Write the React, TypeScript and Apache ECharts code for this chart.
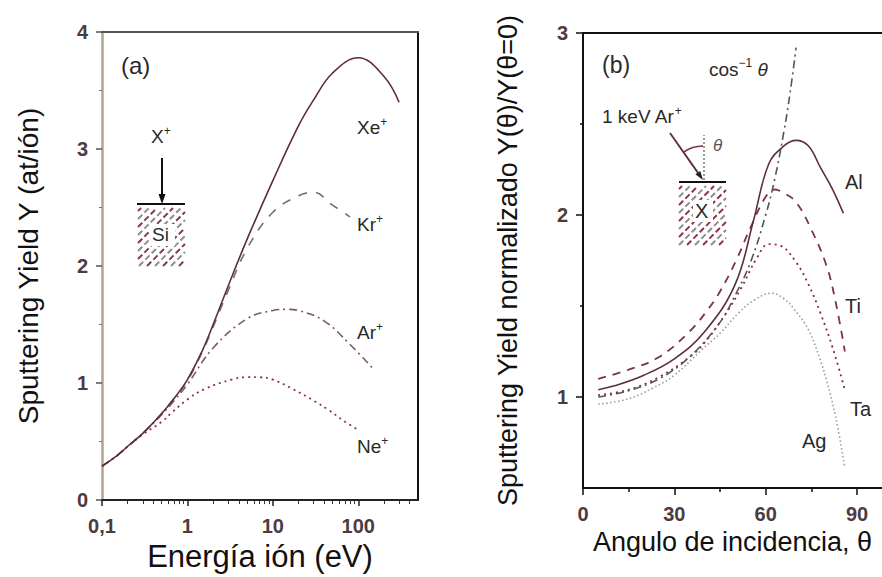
import React, { useEffect, useRef } from "react";
import * as echarts from "echarts";

// ---------- Panel (a): sputtering yield vs ion energy ----------
const energyXe = [0.1, 0.15, 0.2, 0.3, 0.5, 0.7, 1, 1.5, 2, 3, 5, 10, 20, 30, 50, 100, 200, 300];
const yieldXe = [0.29, 0.38, 0.46, 0.57, 0.74, 0.87, 1.03, 1.28, 1.5, 1.83, 2.23, 2.73, 3.2, 3.42, 3.65, 3.78, 3.62, 3.4];

const energyKr = [0.1, 0.15, 0.2, 0.3, 0.5, 0.7, 1, 1.5, 2, 3, 5, 10, 20, 30, 50, 80];
const yieldKr = [0.29, 0.38, 0.46, 0.57, 0.74, 0.87, 1.02, 1.27, 1.48, 1.79, 2.15, 2.46, 2.6, 2.63, 2.52, 2.42];

const energyAr = [0.1, 0.15, 0.2, 0.3, 0.5, 0.7, 1, 2, 5, 10, 15, 20, 40, 80, 150];
const yieldAr = [0.29, 0.38, 0.46, 0.57, 0.73, 0.85, 0.99, 1.3, 1.55, 1.62, 1.63, 1.62, 1.53, 1.33, 1.12];

const energyNe = [0.1, 0.15, 0.2, 0.3, 0.5, 0.66, 1, 1.6, 3.3, 5, 7, 10, 17, 30, 45, 70, 100];
const yieldNe = [0.29, 0.38, 0.46, 0.56, 0.67, 0.75, 0.86, 0.95, 1.03, 1.05, 1.05, 1.03, 0.95, 0.85, 0.77, 0.67, 0.6];

const energyTicks = [0.1, 1, 10, 100];
const energyMinorTicks = [0.2, 0.3, 0.4, 0.5, 0.6, 0.7, 0.8, 0.9, 2, 3, 4, 5, 6, 7, 8, 9, 20, 30, 40, 50, 60, 70, 80, 90, 200, 300, 400];

// ---------- Panel (b): normalized yield vs incidence angle ----------
const angleAl = [5, 10, 20, 30, 40, 50, 56, 61, 66, 70, 74, 78, 82, 85.5];
const yieldAl = [1.04, 1.06, 1.12, 1.21, 1.36, 1.62, 1.97, 2.28, 2.38, 2.41, 2.38, 2.26, 2.14, 2.01];

const angleTi = [5, 15, 25, 35, 41, 45, 50, 55, 60, 63, 66, 70, 75, 80, 83, 86];
const yieldTi = [1.1, 1.15, 1.22, 1.36, 1.48, 1.58, 1.74, 1.93, 2.1, 2.14, 2.12, 2.07, 1.92, 1.72, 1.52, 1.25];

const angleTa = [5, 15, 25, 35, 40, 47, 52, 57, 61, 65, 70, 74, 78, 82, 86];
const yieldTa = [1.01, 1.04, 1.11, 1.22, 1.3, 1.46, 1.6, 1.76, 1.84, 1.83, 1.74, 1.62, 1.46, 1.27, 1.04];

const angleAg = [5, 15, 23, 30, 39, 45, 51, 56, 62, 66, 69, 74, 78, 80, 83, 86];
const yieldAg = [0.96, 0.99, 1.05, 1.12, 1.26, 1.35, 1.46, 1.53, 1.57, 1.54, 1.49, 1.37, 1.2, 1.09, 0.89, 0.61];

const angleCos = [5, 15, 25, 35, 45, 50, 55, 60, 63, 66, 68, 70];
const yieldCos = [1.0, 1.035, 1.1, 1.22, 1.41, 1.56, 1.74, 2.0, 2.2, 2.46, 2.67, 2.92];

const angleTicks = [0, 30, 60, 90];
const angleMinorTicks = [15, 45, 75];
const normTicks = [1, 2, 3];
const normMinorTicks = [1.5, 2.5];

const FONT = "'Liberation Sans', Arial, Helvetica, sans-serif";
const TICK_LABEL = { fontFamily: FONT, fontSize: 20, fontWeight: "bold", color: "#4d3b40" };

const pairs = (xs: number[], ys: number[]) => xs.map((x, i) => [x, ys[i]]);

function hatch(x0: number, y0: number, x1: number, y1: number, step: number): any[] {
  const h = y1 - y0;
  const out: any[] = [];
  let n = 0;
  for (let k = x0 - h + 3; k < x1; k += step) {
    const sMin = Math.max(0, x0 - k);
    const sMax = Math.min(h, x1 - k);
    if (sMax > sMin + 1) {
      out.push({
        type: "line",
        silent: true,
        shape: { x1: k + sMin, y1: y1 - sMin, x2: k + sMax, y2: y1 - sMax },
        style: { stroke: n % 2 === 0 ? "#8a3a4c" : "#8e8e8e", lineWidth: 2, lineDash: [6, 3] },
      });
      n++;
    }
  }
  return out;
}

function sup(x: number, y: number, base: string, s: string, size = 19) {
  return {
    type: "text",
    x,
    y,
    silent: true,
    style: {
      text: `{b|${base}}{s|${s}}`,
      fill: "#2a2a2a",
      rich: {
        b: { fontFamily: FONT, fontSize: size, fill: "#2a2a2a", lineHeight: size + 4 },
        s: { fontFamily: FONT, fontSize: Math.round(size * 0.62), fill: "#2a2a2a", verticalAlign: "top", lineHeight: size + 4 },
      },
    },
  };
}

function plain(x: number, y: number, text: string, size = 19, extra: any = {}) {
  return {
    type: "text",
    x,
    y,
    silent: true,
    style: { text, fontFamily: FONT, fontSize: size, fill: "#2a2a2a", ...extra },
  };
}

export default function App() {
  const ref = useRef<HTMLDivElement>(null);

  useEffect(() => {
    if (!ref.current) return;
    const chart = echarts.init(ref.current, null, { renderer: "svg" });

    const line = (name: string, data: number[][], xi: number, yi: number, color: string, type: any, width = 1.6) => ({
      name,
      type: "line",
      xAxisIndex: xi,
      yAxisIndex: yi,
      data,
      smooth: 0.4,
      symbol: "none",
      showSymbol: false,
      silent: true,
      lineStyle: { color, width, type },
    });

    // right inset arrow geometry
    const tipX = 703, tipY = 180;
    const dx = 33, dy = 47;
    const len = Math.hypot(dx, dy);
    const ux = dx / len, uy = dy / len;
    const bx = tipX - 9 * ux, by = tipY - 9 * uy;
    const px = -uy * 3, py = ux * 3;

    const option: any = {
      animation: false,
      backgroundColor: "#ffffff",
      grid: [
        { left: 102, top: 32, width: 316, height: 469 },
        { left: 583, top: 33, width: 299, height: 455 },
      ],
      xAxis: [
        {
          gridIndex: 0,
          type: "log",
          min: 0.1,
          max: 500,
          position: "bottom",
          name: "Energía ión (eV)",
          nameLocation: "middle",
          nameGap: 39,
          nameTextStyle: { fontFamily: FONT, fontSize: 31, color: "#111" },
          axisLine: { show: true, lineStyle: { color: "#222", width: 2 } },
          axisTick: { show: true, length: 6, customValues: energyTicks, lineStyle: { color: "#222", width: 1.5 } },
          axisLabel: {
            ...TICK_LABEL,
            margin: 16,
            customValues: energyTicks,
            formatter: (v: number) => (v < 0.5 ? "0,1" : String(Math.round(v))),
          },
          splitLine: { show: false },
        },
        {
          gridIndex: 0,
          type: "log",
          min: 0.1,
          max: 500,
          position: "bottom",
          axisLine: { show: false },
          axisTick: { show: true, length: 4, customValues: energyMinorTicks, lineStyle: { color: "#333", width: 1 } },
          axisLabel: { show: false },
          splitLine: { show: false },
        },
        {
          gridIndex: 0,
          type: "log",
          min: 0.1,
          max: 500,
          position: "top",
          axisLine: { show: true, lineStyle: { color: "#555", width: 2 } },
          axisTick: { show: false },
          axisLabel: { show: false },
          splitLine: { show: false },
        },
        {
          gridIndex: 1,
          type: "value",
          min: 0,
          max: 98.2,
          position: "bottom",
          name: "Angulo de incidencia, θ",
          nameLocation: "middle",
          nameGap: 38,
          nameTextStyle: { fontFamily: FONT, fontSize: 27, color: "#111" },
          axisLine: { show: true, lineStyle: { color: "#111", width: 2 } },
          axisTick: { show: true, length: 7, customValues: angleTicks, lineStyle: { color: "#111", width: 1.5 } },
          axisLabel: { ...TICK_LABEL, margin: 16, customValues: angleTicks },
          splitLine: { show: false },
        },
        {
          gridIndex: 1,
          type: "value",
          min: 0,
          max: 98.2,
          position: "bottom",
          axisLine: { show: false },
          axisTick: { show: true, length: 4, customValues: angleMinorTicks, lineStyle: { color: "#111", width: 1.5 } },
          axisLabel: { show: false },
          splitLine: { show: false },
        },
        {
          gridIndex: 1,
          type: "value",
          min: 0,
          max: 98.2,
          position: "top",
          axisLine: { show: true, lineStyle: { color: "#111", width: 2 } },
          axisTick: { show: false },
          axisLabel: { show: false },
          splitLine: { show: false },
        },
      ],
      yAxis: [
        {
          gridIndex: 0,
          type: "value",
          min: 0,
          max: 4,
          interval: 1,
          position: "left",
          name: "Sputtering Yield Y (at/ión)",
          nameLocation: "middle",
          nameGap: 60,
          nameTextStyle: { fontFamily: FONT, fontSize: 28, color: "#111" },
          axisLine: { show: true, lineStyle: { color: "#b0a48e", width: 2.5 } },
          axisTick: { show: true, length: 6, lineStyle: { color: "#555", width: 1.5 } },
          minorTick: { show: true, splitNumber: 2, length: 3, lineStyle: { color: "#777", width: 1 } },
          axisLabel: { ...TICK_LABEL, margin: 14 },
          splitLine: { show: false },
        },
        {
          gridIndex: 0,
          type: "value",
          min: 0,
          max: 4,
          interval: 1,
          position: "right",
          axisLine: { show: true, lineStyle: { color: "#111", width: 2 } },
          axisTick: { show: false },
          axisLabel: { show: false },
          splitLine: { show: false },
        },
        {
          gridIndex: 1,
          type: "value",
          min: 0.5,
          max: 3,
          interval: 0.5,
          position: "left",
          name: "Sputtering Yield normalizado Y(θ)/Y(θ=0)",
          nameLocation: "middle",
          nameGap: 62,
          nameTextStyle: { fontFamily: FONT, fontSize: 27, color: "#111" },
          axisLine: { show: true, lineStyle: { color: "#111", width: 2 } },
          axisTick: { show: true, length: 7, customValues: normTicks, lineStyle: { color: "#111", width: 1.5 } },
          axisLabel: { ...TICK_LABEL, margin: 15, customValues: normTicks },
          splitLine: { show: false },
        },
        {
          gridIndex: 1,
          type: "value",
          min: 0.5,
          max: 3,
          interval: 0.5,
          position: "left",
          axisLine: { show: false },
          axisTick: { show: true, length: 3, customValues: normMinorTicks, lineStyle: { color: "#111", width: 1.5 } },
          axisLabel: { show: false },
          splitLine: { show: false },
        },
      ],
      series: [
        line("Ne+", pairs(energyNe, yieldNe), 0, 0, "#8a3448", [2, 4], 1.8),
        line("Ar+", pairs(energyAr, yieldAr), 0, 0, "#7d5a62", [8, 4, 2, 4], 1.6),
        line("Kr+", pairs(energyKr, yieldKr), 0, 0, "#707070", [9, 9], 1.6),
        line("Xe+", pairs(energyXe, yieldXe), 0, 0, "#5e2d39", "solid", 1.6),
        line("Ag", pairs(angleAg, yieldAg), 3, 2, "#9a9aa6", [1.5, 2.5], 1.6),
        line("Ta", pairs(angleTa, yieldTa), 3, 2, "#8a2a3e", [2, 4], 1.8),
        line("Ti", pairs(angleTi, yieldTi), 3, 2, "#7a3444", [8, 7], 1.8),
        line("cos-1", pairs(angleCos, yieldCos), 3, 2, "#555555", [8, 4, 2, 4], 1.6),
        line("Al", pairs(angleAl, yieldAl), 3, 2, "#5e2d39", "solid", 1.6),
      ],
      graphic: [
        // panel labels
        plain(121, 53, "(a)", 24),
        plain(602, 53, "(b)", 23),
        // curve labels panel (a)
        sup(357, 116, "Xe", "+"),
        sup(357, 213, "Kr", "+"),
        sup(357, 321, "Ar", "+"),
        sup(357, 435, "Ne", "+"),
        // curve labels panel (b)
        plain(845, 172, "Al", 20),
        plain(845, 296, "Ti", 20),
        plain(850, 399, "Ta", 20),
        plain(802, 431, "Ag", 20),
        // cos^-1 theta label
        {
          type: "text",
          x: 709,
          y: 57,
          silent: true,
          style: {
            text: "{b|cos}{s|−1}{i| θ}",
            rich: {
              b: { fontFamily: FONT, fontSize: 19, fill: "#2a2a2a", lineHeight: 24 },
              s: { fontFamily: FONT, fontSize: 12, fill: "#2a2a2a", verticalAlign: "top", lineHeight: 24 },
              i: { fontFamily: FONT, fontSize: 19, fontStyle: "italic", fill: "#2a2a2a", lineHeight: 24 },
            },
          },
        },
        // inset (a)
        sup(151, 125, "X", "+", 19),
        { type: "line", silent: true, shape: { x1: 162, y1: 158, x2: 162, y2: 200 }, style: { stroke: "#111", lineWidth: 2 } },
        { type: "polygon", silent: true, shape: { points: [[158.5, 194], [165.5, 194], [162, 204]] }, style: { fill: "#111" } },
        { type: "line", silent: true, shape: { x1: 137, y1: 204, x2: 185, y2: 204 }, style: { stroke: "#111", lineWidth: 2 } },
        ...hatch(138, 208, 185, 266, 8),
        { type: "rect", silent: true, shape: { x: 150, y: 224, width: 25, height: 22 }, style: { fill: "#ffffff" } },
        plain(152, 225, "Si", 19),
        // inset (b)
        sup(602, 105, "1 keV Ar", "+", 19),
        { type: "line", silent: true, shape: { x1: tipX - dx, y1: tipY - dy, x2: bx, y2: by }, style: { stroke: "#5e2d39", lineWidth: 1.8 } },
        { type: "polygon", silent: true, shape: { points: [[tipX, tipY], [bx + px, by + py], [bx - px, by - py]] }, style: { fill: "#222" } },
        { type: "line", silent: true, shape: { x1: 704, y1: 180, x2: 704, y2: 135 }, style: { stroke: "#999", lineWidth: 2, lineDash: [2, 2] } },
        {
          type: "arc",
          silent: true,
          shape: { cx: 703, cy: 180, r: 34, startAngle: Math.atan2(-dy, -dx), endAngle: -Math.PI / 2, clockwise: true },
          style: { stroke: "#7a3444", lineWidth: 1.5, fill: "none" },
        },
        plain(713, 137, "θ", 17, { fontStyle: "italic", fill: "#555" }),
        { type: "line", silent: true, shape: { x1: 679, y1: 182, x2: 726, y2: 182 }, style: { stroke: "#111", lineWidth: 2 } },
        ...hatch(679, 186, 726, 245, 8),
        { type: "rect", silent: true, shape: { x: 693, y: 200, width: 20, height: 22 }, style: { fill: "#ffffff" } },
        plain(695, 201, "X", 20),
      ],
    };

    chart.setOption(option);
    return () => chart.dispose();
  }, []);

  return (
    <div
      ref={ref}
      style={{ position: "fixed", left: 0, top: 0, width: 882, height: 577, background: "#fff" }}
    />
  );
}
